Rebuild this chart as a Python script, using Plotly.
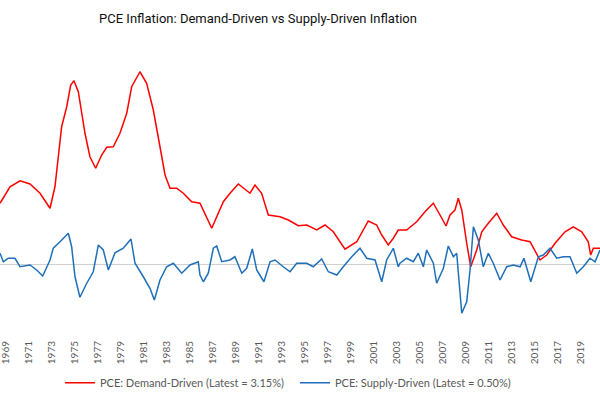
import plotly.graph_objects as go

# decimal years and values (pp)
demand_years = [1968.48, 1969.35, 1970.22, 1971.09, 1971.96, 1972.83, 1973.26, 1973.84, 1974.28, 1974.63,
                1974.91, 1975.29, 1975.87, 1976.30, 1976.80, 1977.32, 1977.76, 1978.33, 1978.91, 1979.50,
                1979.93, 1980.65, 1981.23, 1981.81, 1982.39, 1982.83, 1983.26, 1983.84, 1984.42, 1985.15,
                1985.87, 1986.89, 1987.90, 1988.48, 1989.20, 1990.22, 1990.65, 1991.23, 1991.81, 1992.83,
                1993.55, 1994.42, 1995.15, 1996.02, 1996.74, 1997.46, 1998.48, 1999.50, 2000.50, 2001.23,
                2001.67, 2002.24, 2002.68, 2003.11, 2003.84, 2004.71, 2005.43, 2006.16, 2006.74, 2007.26,
                2007.61, 2008.04, 2008.33, 2008.63, 2009.06, 2009.41, 2009.93, 2010.37, 2010.94, 2011.67,
                2012.24, 2012.97, 2013.84, 2014.57, 2015.43, 2016.02, 2016.74, 2017.61, 2018.33, 2019.06,
                2019.63, 2019.84, 2020.07, 2020.65]
demand_vals = [2.43, 3.09, 3.33, 3.20, 2.83, 2.23, 3.09, 5.49, 6.29, 7.16,
               7.33, 6.89, 5.23, 4.29, 3.83, 4.36, 4.67, 4.69, 5.23, 6.03,
               7.09, 7.69, 7.23, 6.16, 4.69, 3.56, 3.03, 3.03, 2.83, 2.49,
               2.43, 1.43, 2.49, 2.83, 3.20, 2.83, 3.16, 2.83, 1.96, 1.89,
               1.76, 1.53, 1.56, 1.36, 1.56, 1.29, 0.59, 0.89, 1.72, 1.56,
               1.16, 0.76, 1.03, 1.36, 1.36, 1.69, 2.09, 2.43, 1.96, 1.52,
               1.96, 2.16, 2.63, 2.16, 0.83, -0.11, 0.56, 1.29, 1.63, 2.03,
               1.56, 1.09, 0.96, 0.89, 0.16, 0.36, 0.83, 1.29, 1.49, 1.29,
               0.89, 0.36, 0.63, 0.63]

supply_years = [1968.48, 1968.77, 1969.20, 1969.78, 1970.22, 1971.09, 1971.67, 1972.19, 1972.83, 1973.11,
                1973.70, 1974.42, 1974.71, 1975.00, 1975.43, 1976.02, 1976.59, 1977.03, 1977.46, 1977.90,
                1978.48, 1979.20, 1979.87, 1980.22, 1980.94, 1981.52, 1981.90, 1982.39, 1982.97, 1983.55,
                1984.28, 1985.00, 1985.72, 1985.87, 1986.16, 1986.59, 1987.03, 1987.32, 1987.76, 1988.48,
                1988.91, 1989.50, 1989.93, 1990.42, 1990.80, 1991.43, 1991.96, 1992.39, 1993.11, 1993.70,
                1994.28, 1995.15, 1995.72, 1996.45, 1997.03, 1997.76, 1998.33, 1999.06, 1999.78, 2000.37,
                2001.09, 2001.67, 2002.10, 2002.68, 2003.11, 2003.26, 2003.84, 2004.42, 2004.85, 2005.29,
                2005.58, 2006.16, 2006.45, 2007.03, 2007.46, 2007.90, 2008.19, 2008.63, 2009.06, 2009.35,
                2009.64, 2010.07, 2010.50, 2010.94, 2011.37, 2011.96, 2012.54, 2013.11, 2013.70, 2014.04,
                2014.63, 2015.29, 2015.72, 2016.30, 2016.89, 2017.46, 2018.04, 2018.63, 2019.20, 2019.78,
                2020.22, 2020.65]
supply_vals = [0.43, 0.09, 0.23, 0.23, -0.11, -0.04, -0.24, -0.48, 0.16, 0.63,
               0.89, 1.23, 0.69, -0.51, -1.33, -0.77, -0.31, 0.76, 0.56, -0.24,
               0.45, 0.63, 1.00, 0.03, -0.51, -0.97, -1.44, -0.64, -0.11, 0.03,
               -0.37, -0.04, 0.09, -0.44, -0.71, -0.37, 0.63, 0.72, 0.09, 0.16,
               0.29, -0.37, -0.17, 0.60, -0.24, -0.71, 0.09, 0.16, -0.11, -0.31,
               0.03, 0.03, -0.11, 0.20, -0.31, -0.44, -0.11, 0.29, 0.63, 0.23,
               0.16, -0.71, 0.16, 0.63, -0.11, 0.03, 0.23, 0.09, 0.43, -0.11,
               0.56, 0.03, -0.77, -0.17, 0.72, 0.29, 0.43, -1.97, -1.51, -0.24,
               1.49, 0.96, -0.11, 0.43, 0.03, -0.64, -0.11, -0.04, -0.11, 0.23,
               -0.71, 0.29, 0.36, 0.63, 0.23, 0.29, 0.29, -0.37, -0.11, 0.23,
               0.09, 0.56]

tick_years = list(range(1969, 2022, 2))

fig = go.Figure()
fig.add_trace(go.Scatter(x=demand_years, y=demand_vals, mode="lines",
                         name="PCE: Demand-Driven (Latest = 3.15%)",
                         line=dict(color="#ff0000", width=1.5)))
fig.add_trace(go.Scatter(x=supply_years, y=supply_vals, mode="lines",
                         name="PCE: Supply-Driven (Latest = 0.50%)",
                         line=dict(color="#1f6fb9", width=1.5)))

fig.update_layout(
    width=600, height=400,
    margin=dict(l=0, r=0, t=40, b=62),
    plot_bgcolor="white", paper_bgcolor="white",
    title=dict(text="PCE Inflation: Demand-Driven vs Supply-Driven Inflation",
               x=0.43, xanchor="center", y=0.955, yanchor="middle",
               font=dict(family="Roboto, sans-serif", size=13, color="#111111")),
    showlegend=True,
    legend=dict(orientation="h", x=0.1, xanchor="left", y=-0.15, yanchor="middle",
                entrywidth=190, entrywidthmode="pixels",
                font=dict(family="Lato", size=11, color="#595959")),
    xaxis=dict(range=[1968.48, 2020.65], tickvals=tick_years, ticktext=[str(t) for t in tick_years],
               tickangle=-90, showgrid=False, zeroline=False, showline=False, ticks="",
               automargin=False, ticklabeloverflow="allow",
               tickfont=dict(family="Lato", size=10, color="#595959")),
    yaxis=dict(range=[-2.96, 8.96], showgrid=False, showticklabels=False, ticks="",
               automargin=False,
               zeroline=True, zerolinecolor="#d0d0d0", zerolinewidth=1, showline=False),
)

# page has a default body margin; drop it so the 600x400 figure sits at the corner
fig.write_html("out.html", config={"displayModeBar": False},
               post_script="document.body.style.margin='0';")
